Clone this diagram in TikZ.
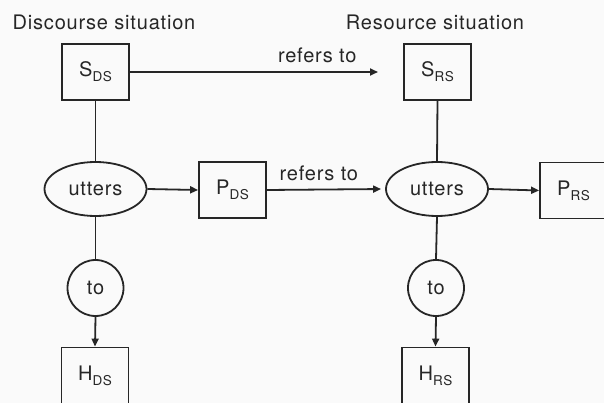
\documentclass[tikz,border=0pt]{standalone}
\usepackage{fontspec}
\setmainfont{TeX Gyre Heros}[LetterSpace=4]
\usetikzlibrary{arrows.meta,shapes.geometric}
\definecolor{ink}{HTML}{262626}
\newcommand{\sbx}[2]{#1\raisebox{-5pt}{\fontsize{13.5}{14}\selectfont #2}}
\tikzset{
  every node/.style={text=ink,font=\fontsize{20}{22}\selectfont},
  boxnode/.style={draw=ink,line width=1.8pt,minimum width=67pt,minimum height=56pt,inner sep=0pt},
  ellnode/.style={draw=ink,line width=1.8pt,ellipse,minimum width=102pt,minimum height=54pt,inner sep=0pt},
  circnode/.style={draw=ink,line width=1.8pt,circle,minimum size=56pt,inner sep=0pt},
  conn/.style={draw=ink,line width=1.8pt},
  arr/.style={conn,-{Triangle[length=8pt,width=7pt]}},
  lbl/.style={inner sep=0pt}
}
\begin{document}
\begin{tikzpicture}[x=1pt,y=-1pt]
\useasboundingbox[fill=black!2] (0,0) rectangle (604,403);
\node[lbl] (t1) at (104,22) {Discourse situation};
\node[lbl] (t2) at (435,22) {Resource situation};
\node[boxnode] (sds) at (95.5,72) {\sbx{S}{DS}};
\node[boxnode] (srs) at (437.5,72) {\sbx{S}{RS}};
\node[ellnode] (uds) at (95.5,189) {utters};
\node[ellnode] (urs) at (437,189) {utters};
\node[boxnode] (pds) at (232.5,190) {\sbx{P}{DS}};
\node[boxnode] (prs) at (573.5,190.5) {\sbx{P}{RS}};
\node[circnode] (cds) at (95.5,288) {to};
\node[circnode] (crs) at (436,288) {to};
\node[boxnode] (hds) at (95,375.5) {\sbx{H}{DS}};
\node[boxnode] (hrs) at (435.5,375.5) {\sbx{H}{RS}};
\coordinate (e1) at (378,72);
\draw[arr] (sds.east) -- node[lbl,above=8pt,pos=0.755] (r1) {refers to} (e1);
\draw[arr] (uds.east) -- (pds.west);
\draw[arr,shorten >=4pt] (pds.east) -- node[lbl,above=8pt,pos=0.44] (r2) {refers to} (urs.west);
\draw[arr] (urs.east) -- (prs.west);
\draw[conn] (sds.south) -- (uds.north);
\draw[conn] (srs.south) -- (urs.north);
\draw[conn] (uds.south) -- (cds.north);
\draw[conn] (urs.south) -- (crs.north);
\draw[arr] (cds.south) -- (hds.north);
\draw[arr] (crs.south) -- (hrs.north);
\end{tikzpicture}
\end{document}
